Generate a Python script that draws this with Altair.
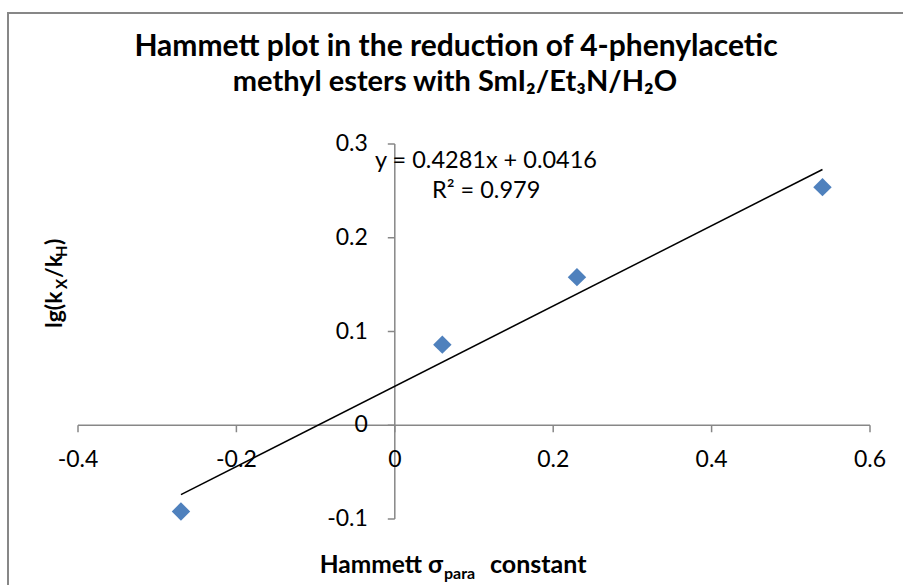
import altair as alt
import pandas as pd

# Hammett substituent constants and measured rate ratios
sigma = [-0.27, 0.06, 0.23, 0.54]
lg_ratio = [-0.092, 0.086, 0.158, 0.254]

# Linear trendline reported for the series
slope = 0.4281
intercept = 0.0416
r_squared = 0.979

x_ticks = [-0.4, -0.2, 0.0, 0.2, 0.4, 0.6]
x_tick_labels = ["-0.4", "-0.2", "0", "0.2", "0.4", "0.6"]
y_ticks = [-0.1, 0.0, 0.1, 0.2, 0.3]
y_tick_labels = ["-0.1", "0", "0.1", "0.2", "0.3"]

title_line1 = "Hammett plot in the reduction of 4-phenylacetic"
title_line2 = "methyl esters with SmI\u2082/Et\u2083N/H\u2082O"

W, H = 903, 585
FONT = "Lato"
GRAY = "#878787"
BLUE = "#4F81BD"

xs = alt.Scale(domain=[x_ticks[0], x_ticks[-1]], range=[78, 870], nice=False, zero=False)
ys = alt.Scale(domain=[y_ticks[0], y_ticks[-1]], range=[519, 144], nice=False, zero=False)


def X(field):
    return alt.X(field, type="quantitative", scale=xs, axis=None)


def Y(field):
    return alt.Y(field, type="quantitative", scale=ys, axis=None)


one = pd.DataFrame({"k": [0]})


def label(text, x, y, **style):
    """A single piece of fixed text placed in pixel coordinates."""
    return alt.Chart(one).mark_text(font=FONT, color="black", **style).encode(
        x=alt.value(x), y=alt.value(y), text=alt.value(text)
    )


# Chart border
border = alt.Chart(one).mark_rect(fill="white", stroke=GRAY, strokeWidth=2).encode(
    x=alt.value(8), x2=alt.value(W + 10), y=alt.value(13), y2=alt.value(H + 10)
)

# Axes crossing at the origin
x_line = alt.Chart(pd.DataFrame({"a": [x_ticks[0]], "b": [x_ticks[-1]], "z": [0.0]})).mark_rule(
    color=GRAY, strokeWidth=1.5
).encode(x=X("a"), x2="b", y=Y("z"))

y_line = alt.Chart(pd.DataFrame({"a": [y_ticks[0]], "b": [y_ticks[-1]], "z": [0.0]})).mark_rule(
    color=GRAY, strokeWidth=1.5
).encode(y=Y("a"), y2="b", x=X("z"))

xt_df = pd.DataFrame({"t": x_ticks, "lab": x_tick_labels, "z": 0.0})
yt_df = pd.DataFrame({"t": y_ticks, "lab": y_tick_labels, "z": 0.0})

x_tick_marks = alt.Chart(xt_df).mark_rule(color=GRAY, strokeWidth=1.5, y2Offset=7).encode(
    x=X("t"), y=Y("z"), y2="z"
)
y_tick_marks = alt.Chart(yt_df).mark_rule(color=GRAY, strokeWidth=1.5, x2Offset=-7).encode(
    y=Y("t"), x=X("z"), x2="z"
)

x_labels = alt.Chart(xt_df).mark_text(
    font=FONT, fontSize=23, color="black", baseline="middle", align="center", dy=35
).encode(x=X("t"), y=Y("z"), text="lab:N")

y_labels = alt.Chart(yt_df).mark_text(
    font=FONT, fontSize=23, color="black", baseline="middle", align="right", dx=-27
).encode(y=Y("t"), x=X("z"), text="lab:N")

# Trendline drawn from the reported equation over the data range
trend_df = pd.DataFrame({"x": [min(sigma), max(sigma)]})
trend_df["y"] = slope * trend_df["x"] + intercept
trend = alt.Chart(trend_df).mark_line(color="black", strokeWidth=1.5).encode(x=X("x"), y=Y("y"))

points = alt.Chart(pd.DataFrame({"sigma": sigma, "lg": lg_ratio})).mark_point(
    shape="diamond", filled=True, size=340, color=BLUE, opacity=1
).encode(x=X("sigma"), y=Y("lg"))

eq = label(f"y = {slope}x + {intercept}", 375, 161, fontSize=23.5, align="left", baseline="middle")
r2 = label(f"R\u00b2 = {r_squared}", 432, 191, fontSize=23.5, align="left", baseline="middle")

# Title, two centred lines
title = alt.layer(
    label(title_line1, 456, 47, fontSize=30, fontWeight="bold", align="center", baseline="middle"),
    label(title_line2, 455, 82, fontSize=29, fontWeight="bold", align="center", baseline="middle"),
)

# Axis titles with subscripts, composed from pieces
xb = dict(fontWeight="bold", baseline="alphabetic")
x_title = alt.layer(
    label("Hammett \u03c3", 443, 573, fontSize=24.5, align="right", **xb),
    label("para", 444, 579, fontSize=16, align="left", **xb),
    label("constant", 490, 573, fontSize=25, align="left", **xb),
)

ya = dict(fontWeight="bold", baseline="alphabetic", angle=270, align="left")
YX, YY = 62, 328
y_title = alt.layer(
    label("lg(k", YX, YY, fontSize=23, dx=0, **ya),
    label("X", YX, YY, fontSize=15, dx=39, dy=5, **ya),
    label("/k", YX, YY, fontSize=23, dx=50, **ya),
    label("H", YX, YY, fontSize=15, dx=71, dy=5, **ya),
    label(")", YX, YY, fontSize=23, dx=83, **ya),
)

chart = alt.layer(
    border, x_line, y_line, x_tick_marks, y_tick_marks, x_labels, y_labels,
    trend, points, eq, r2, title, x_title, y_title
).properties(
    width=W, height=H, padding=0, autosize=alt.AutoSizeParams(type="none"),
    background="white"
).configure_view(stroke=None)

chart.save("out.html", embed_options={"renderer": "svg", "actions": False})
